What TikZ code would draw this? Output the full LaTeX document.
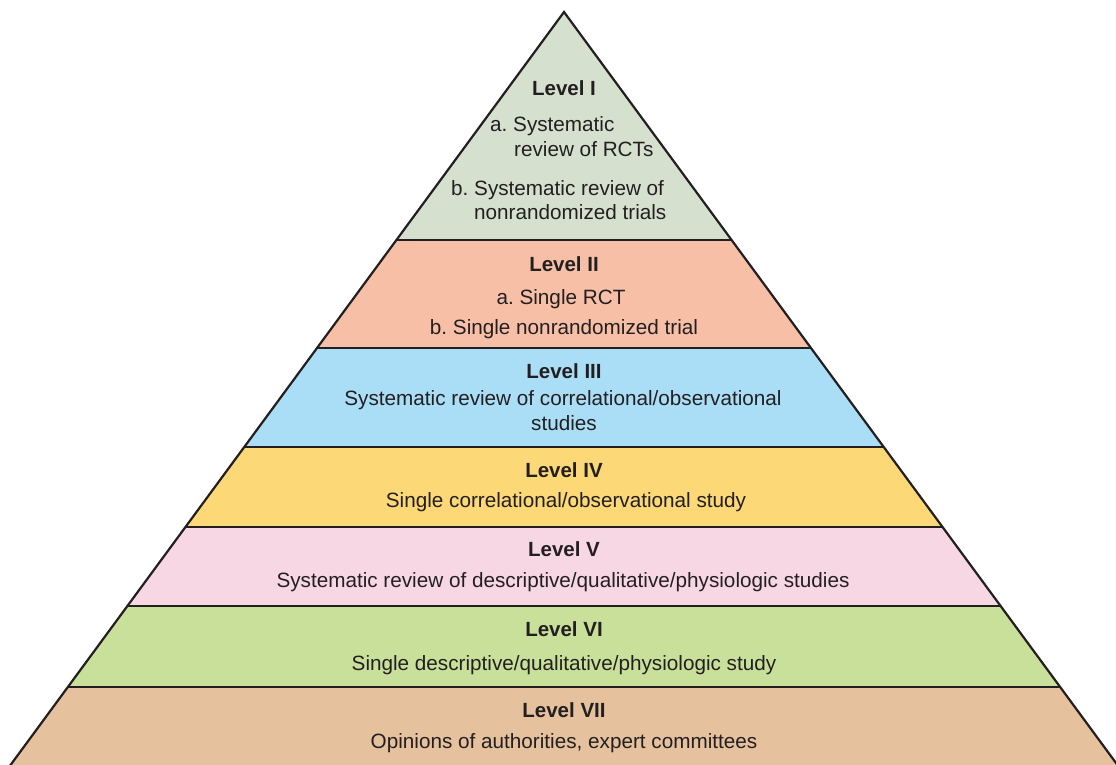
\documentclass[tikz,border=0pt]{standalone}
\usepackage{fontspec}
\setmainfont{Liberation Sans}
\frenchspacing
\definecolor{cI}{HTML}{D5E1CE}
\definecolor{cII}{HTML}{F8BFA7}
\definecolor{cIII}{HTML}{A9DEF6}
\definecolor{cIV}{HTML}{FCD877}
\definecolor{cV}{HTML}{F8D7E5}
\definecolor{cVI}{HTML}{C9E09B}
\definecolor{cVII}{HTML}{E6C19E}
\definecolor{ink}{HTML}{231F20}
\tikzset{
  txt/.style={anchor=base, inner sep=0pt, text=ink, font=\fontsize{20.7}{24}\selectfont},
  txtl/.style={txt, anchor=base west},
  lvl/.style={txt, font=\fontsize{20.5}{24}\selectfont\bfseries},
  edge/.style={draw=ink, line width=2.2pt, line join=miter},
}
\begin{document}
\begin{tikzpicture}[x=1pt,y=-1pt]
\useasboundingbox (0,0) rectangle (1116,764);
\clip (0,0) rectangle (1116,764);
% bands
\fill[cI]   (564,12) -- (731.6,240) -- (396.4,240) -- cycle;
\fill[cII]  (396.4,240) -- (731.6,240) -- (811,348) -- (317,348) -- cycle;
\fill[cIII] (317,348) -- (811,348) -- (883.7,447) -- (244.3,447) -- cycle;
\fill[cIV]  (244.3,447) -- (883.7,447) -- (942.5,527) -- (185.5,527) -- cycle;
\fill[cV]   (185.5,527) -- (942.5,527) -- (1000.6,606) -- (127.4,606) -- cycle;
\fill[cVI]  (127.4,606) -- (1000.6,606) -- (1060.1,687) -- (67.9,687) -- cycle;
\fill[cVII] (67.9,687) -- (1060.1,687) -- (1128.5,780) -- (-0.5,780) -- cycle;
% lines
\draw[edge] (396.4,240) -- (731.6,240);
\draw[edge] (317,348) -- (811,348);
\draw[edge] (244.3,447) -- (883.7,447);
\draw[edge] (185.5,527) -- (942.5,527);
\draw[edge] (127.4,606) -- (1000.6,606);
\draw[edge] (67.9,687) -- (1060.1,687);
\draw[edge] (-0.5,780) -- (564,12) -- (1128.5,780);
% texts
\node[lvl] (l1) at (564,95) {Level I};
\node[txtl] (l1a1) at (490,131) {a. Systematic};
\node[txtl] (l1a2) at (514,156) {review of RCTs};
\node[txtl] (l1b1) at (451,195) {b. Systematic review of};
\node[txtl] (l1b2) at (474,219) {nonrandomized trials};
\node[lvl] (l2) at (564,271) {Level II};
\node[txt] (l2a) at (561,304) {a. Single RCT};
\node[txt] (l2b) at (564,334) {b. Single nonrandomized trial};
\node[lvl] (l3) at (564,378) {Level III};
\node[txt] (l3a) at (563,405) {Systematic review of correlational/observational};
\node[txt] (l3b) at (564,430) {studies};
\node[lvl] (l4) at (564,477) {Level IV};
\node[txt] (l4a) at (566,507) {Single correlational/observational study};
\node[lvl] (l5) at (564,556) {Level V};
\node[txt] (l5a) at (563,587) {Systematic review of descriptive/qualitative/physiologic studies};
\node[lvl] (l6) at (564,636) {Level VI};
\node[txt] (l6a) at (564,670) {Single descriptive/qualitative/physiologic study};
\node[lvl] (l7) at (564,717) {Level VII};
\node[txt] (l7a) at (564,748) {Opinions of authorities, expert committees};
\end{tikzpicture}
\end{document}
